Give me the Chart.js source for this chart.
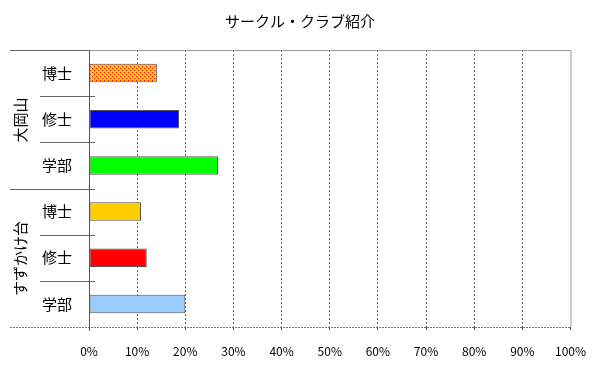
<!DOCTYPE html>
<html>
<head>
<meta charset="utf-8">
<script src="https://cdn.jsdelivr.net/npm/chart.js@4"></script>
<style>
  html, body { margin: 0; padding: 0; background: #fff; }
  #wrap { width: 600px; height: 372px; }
</style>
</head>
<body>
<div id="wrap"><canvas id="canvas" width="600" height="372"></canvas></div>
<script>
const FONT = '"Noto Sans CJK JP", "Noto Sans", sans-serif';

const title = 'サークル・クラブ紹介';
const categories = ['博士', '修士', '学部', '博士', '修士', '学部'];
const groups = ['大岡山', 'すずかけ台'];
const groupSize = [3, 3];
const values = [14.1, 18.7, 26.8, 10.8, 12.0, 20.0];
const xTicks = ['0%', '10%', '20%', '30%', '40%', '50%', '60%', '70%', '80%', '90%', '100%'];

// dotted orange fill for the first bar
function dotPattern() {
    const c = document.createElement('canvas');
    c.width = 4; c.height = 4;
    const p = c.getContext('2d');
    p.fillStyle = '#FFCC00';
    p.fillRect(0, 0, 4, 4);
    p.fillStyle = '#FF0000';
    p.fillRect(0, 0, 1, 1);
    p.fillRect(2, 2, 1, 1);
    return p.createPattern(c, 'repeat');
}

const ctx = document.getElementById('canvas').getContext('2d');
const barColors = [dotPattern(), '#0000FF', '#00FF00', '#FFCC00', '#FF0000', '#99CCFF'];

const config = {
    type: 'bar',
    data: {
        labels: categories,
        datasets: [{
            data: values,
            backgroundColor: barColors,
            borderColor: '#555555',
            borderWidth: 1,
            borderSkipped: false,
            categoryPercentage: 0.4,
            barPercentage: 1.0
        }]
    },
    options: {
        indexAxis: 'y',
        responsive: false,
        animation: false,
        layout: { padding: { top: 50, right: 29, left: 0, bottom: 0 } },
        plugins: {
            legend: { display: false },
            title: { display: false },
            tooltip: { enabled: false }
        },
        scales: {
            x: {
                min: 0,
                max: 100,
                afterFit: (scale) => { scale.height = 45; },
                afterBuildTicks: (scale) => {
                    scale.ticks = xTicks.map((t, i) => ({ value: i * 10 }));
                },
                grid: {
                    color: (c) => (c.index === 0 || c.index === 10) ? 'rgba(0,0,0,0)' : '#666666',
                    tickColor: '#555555',
                    tickLength: 3,
                    lineWidth: 1
                },
                border: { display: false, dash: [2, 2] },
                ticks: {
                    padding: 14,
                    color: '#000',
                    font: { family: FONT, size: 12 },
                    maxRotation: 0,
                    autoSkip: false,
                    callback: (v, i) => xTicks[i]
                }
            },
            y: {
                afterFit: (scale) => { scale.width = 89; },
                grid: { display: false, drawTicks: false },
                border: { display: false },
                ticks: {
                    padding: 17,
                    color: '#000',
                    font: { family: FONT, size: 15 }
                }
            }
        }
    },
    plugins: [{
        id: 'frame',
        beforeDatasetsDraw: (chart) => {
            const c = chart.ctx;
            const a = chart.chartArea;
            const yScale = chart.scales.y;
            c.save();
            c.lineWidth = 1;

            // top and right border
            c.strokeStyle = '#999999';
            c.beginPath();
            c.moveTo(a.left, a.top + 0.5);
            c.lineTo(a.right + 0.5, a.top + 0.5);
            c.lineTo(a.right + 0.5, a.bottom);
            c.stroke();

            // dotted bottom axis
            c.strokeStyle = '#777777';
            c.setLineDash([2, 1]);
            c.beginPath();
            c.moveTo(10, a.bottom + 0.5);
            c.lineTo(a.right + 0.5, a.bottom + 0.5);
            c.stroke();
            c.setLineDash([]);

            // category separators
            const step = yScale.getPixelForValue(1) - yScale.getPixelForValue(0);
            const bounds = [];
            for (let i = 0; i <= categories.length; i++) {
                bounds.push(Math.round(yScale.getPixelForValue(0) - step / 2 + i * step) + 0.5);
            }
            const groupEdges = [0];
            groupSize.forEach(n => groupEdges.push(groupEdges[groupEdges.length - 1] + n));
            c.strokeStyle = '#666666';
            bounds.forEach((y, i) => {
                if (i === categories.length) return;
                const isGroup = groupEdges.includes(i);
                c.beginPath();
                c.moveTo(isGroup ? 10 : 40, y);
                c.lineTo(i === 0 ? a.left : 95, y);
                c.stroke();
            });

            // y axis line
            c.strokeStyle = '#555555';
            c.beginPath();
            c.moveTo(a.left + 0.5, a.top);
            c.lineTo(a.left + 0.5, a.bottom + 4);
            c.stroke();

            // group labels (vertical)
            c.fillStyle = '#000';
            c.font = '15px ' + FONT;
            c.textAlign = 'center';
            c.textBaseline = 'middle';
            groups.forEach((g, gi) => {
                const yMid = (bounds[groupEdges[gi]] + bounds[groupEdges[gi + 1]]) / 2;
                c.save();
                c.translate(20, yMid);
                c.rotate(-Math.PI / 2);
                c.fillText(g, 0, 0);
                c.restore();
            });

            // title
            c.font = '15px ' + FONT;
            c.fillText(title, 300, 21);
            c.restore();
        }
    }]
};

const chart = new Chart(ctx, config);
</script>
</body>
</html>
